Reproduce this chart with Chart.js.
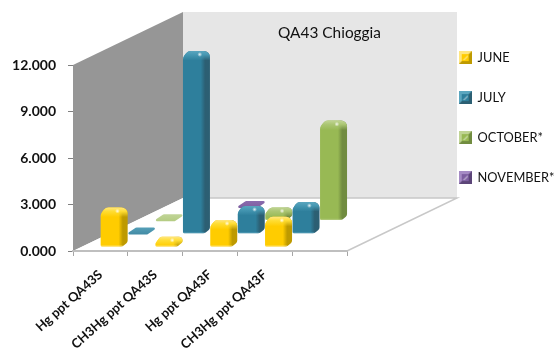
<!DOCTYPE html>
<html>
<head>
<meta charset="utf-8">
<style>html,body{margin:0;padding:0;background:#fff}canvas{display:block}</style>
<script src="https://cdn.jsdelivr.net/npm/chart.js@4/dist/chart.umd.js"></script>
</head>
<body>
<canvas id="c" width="558" height="351"></canvas>
<script>
const categories = ['Hg ppt QA43S', 'CH3Hg ppt QA43S', 'Hg ppt QA43F', 'CH3Hg ppt QA43F', ''];
const june = [2.1, 0.22, 1.3, 1.5, null];
const july = [0.02, 11.35, 1.35, 1.6, null];
const october = [0.02, null, 0.4, 6.0, null];
const november = [null, 0.02, null, null, null];
const yTicks = [0, 3, 6, 9, 12];
const chartTitle = 'QA43 Chioggia';

// Depth of the floor, and of one bar's footprint, in canvas pixels
const FLOOR_DX = 110, FLOOR_DY = 53, ROWS = 4;
const BAR_DX = 6, BAR_DY = 6.5;

const palette = {
  JUNE:        {base: '#FFCC00', dark: '#BE9A00', top: '#FFDD33', edge: '#FFE680', flat: 1},
  JULY:        {base: '#2E7F9C', dark: '#2C5F73', top: '#4698B3', edge: '#5BA6BF', flat: 0.9},
  'OCTOBER*':  {base: '#98B954', dark: '#718C40', top: '#ABC673', edge: '#C0D494', flat: 0.72},
  'NOVEMBER*': {base: '#7D5FA0', dark: '#5C4578', top: '#8D6DB0', edge: '#A58BC4', flat: 1}
};

// Closed path through pts, each corner rounded with its own radius
function roundedPath(ctx, pts, radii) {
  const n = pts.length;
  const mid = (a, b) => [(a[0] + b[0]) / 2, (a[1] + b[1]) / 2];
  const start = mid(pts[n - 1], pts[0]);
  ctx.beginPath();
  ctx.moveTo(start[0], start[1]);
  for (let i = 0; i < n; i++) {
    const p = pts[i], m = mid(p, pts[(i + 1) % n]);
    ctx.arcTo(p[0], p[1], m[0], m[1], radii[i]);
  }
  ctx.closePath();
}

// Each bar stands on its own row of the floor, so the element is painted as a
// bevelled column pushed back along the depth direction of its dataset.
Chart.BarElement.prototype.draw = function (ctx) {
  const {x, y, base, width} = this.getProps(['x', 'y', 'base', 'width'], true);
  const row = this.depthRow + 0.5;
  const col = palette[this.seriesName];
  const cx = x + row * FLOOR_DX / ROWS;
  const yb = base - row * FLOOR_DY / ROWS + 2.2;
  const yt = yb - (base - y);
  const xL = cx - (width + BAR_DX) / 2, xR = xL + width;
  const h = yb - yt;

  ctx.save();
  if (h < 1) {
    // a value close to zero only shows as a thin lozenge on the floor
    ctx.globalAlpha = col.flat;
    roundedPath(ctx, [[xL - 2.5, yt + 1.5], [xL + BAR_DX + 2, yt - BAR_DY + 1], [xR + BAR_DX + 2.5, yt - BAR_DY + 1],
      [xR - 2, yt + 1.5]], [1.2, 2, 1.2, 2]);
    const fg = ctx.createLinearGradient(0, yt - BAR_DY, 0, yt + 1);
    fg.addColorStop(0, col.top);
    fg.addColorStop(1, col.base);
    ctx.fillStyle = fg;
    ctx.fill();
    ctx.restore();
    return;
  }
  const r = Math.min(6, (h + BAR_DY) / 2.6);
  roundedPath(ctx, [[xL, yb + 0.5], [xL, yt], [xL + BAR_DX - 1, yt - BAR_DY], [xR + BAR_DX, yt - BAR_DY],
    [xR + BAR_DX, yb - BAR_DY + 2.5], [xR + 1, yb + 0.5]], [1.5, r, r, r, r * 0.6, r * 0.8]);
  ctx.clip();
  const g = ctx.createLinearGradient(xL, 0, xR + BAR_DX, 0);
  g.addColorStop(0, col.base);
  g.addColorStop(0.66, col.base);
  g.addColorStop(0.82, col.dark);
  g.addColorStop(1, col.dark);
  ctx.fillStyle = g;
  ctx.fillRect(xL - 1, yt - BAR_DY - 1, width + BAR_DX + 2, h + BAR_DY + 3);

  // lighter shoulder along the top of the column
  const tg = ctx.createLinearGradient(0, yt - BAR_DY, 0, yt + 3);
  tg.addColorStop(0, col.edge);
  tg.addColorStop(0.4, col.top);
  tg.addColorStop(1, col.top + '00');
  ctx.fillStyle = tg;
  ctx.fillRect(xL - 1, yt - BAR_DY - 1, width + BAR_DX + 2, BAR_DY + 5);

  // lit rim along the floor
  ctx.fillStyle = col.edge;
  ctx.globalAlpha = 0.5;
  ctx.fillRect(xL, yb - 0.8, width + 1, 1.5);
  ctx.globalAlpha = 1;

  // soft specular glint on the top face
  const gx = xL + width * 0.8, gy = yt - BAR_DY * 0.45;
  const sg = ctx.createRadialGradient(gx, gy, 0.2, gx, gy, 2.4);
  sg.addColorStop(0, 'rgba(255,255,255,0.8)');
  sg.addColorStop(1, 'rgba(255,255,255,0)');
  ctx.fillStyle = sg;
  ctx.fillRect(gx - 3, gy - 3, 6, 6);
  ctx.restore();
};

// Small bevelled square used as the legend key
function legendKey(name) {
  const col = palette[name], s = 13;
  const k = document.createElement('canvas');
  k.width = k.height = s;
  const c = k.getContext('2d');
  c.fillStyle = col.dark;
  c.fillRect(0, 0, s, s);
  c.fillStyle = col.edge;
  c.beginPath(); c.moveTo(0, 0); c.lineTo(s, 0); c.lineTo(s - 3, 3); c.lineTo(3, 3); c.lineTo(3, s - 3); c.lineTo(0, s); c.closePath(); c.fill();
  c.fillStyle = col.base;
  c.fillRect(3, 3, s - 6, s - 6);
  c.fillStyle = 'rgba(255,255,255,0.45)';
  c.beginPath(); c.moveTo(4, s - 4); c.lineTo(s - 4, 4); c.lineTo(s - 4, 6); c.lineTo(6, s - 4); c.closePath(); c.fill();
  return k;
}

const stage = {
  id: 'stage',
  beforeLayout(chart) {
    // the key column may run taller than the plot area without wrapping
    const lg = chart.legend;
    if (!lg.columnHeightSet) {
      const update = lg.update.bind(lg);
      lg.update = (w, h, m) => update(w, 240, m);
      lg.columnHeightSet = true;
    }
  },
  afterLayout(chart) {
    // the key column sits to the right of the back wall
    const lg = chart.legend, w = lg.width, h = lg.height;
    lg.left = 432; lg.right = 432 + w; lg.top = 24; lg.bottom = 24 + h;
  },
  beforeDraw(chart) {
    const {ctx} = chart, {x, y} = chart.scales;
    const l = x.left, r = x.right, b = y.bottom, t = y.top;
    ctx.save();
    // back wall
    ctx.fillStyle = '#E6E6E6';
    ctx.fillRect(l + FLOOR_DX, t - FLOOR_DY, r - l, b - t);
    // side wall
    ctx.fillStyle = '#969696';
    ctx.beginPath();
    ctx.moveTo(l, b); ctx.lineTo(l, t); ctx.lineTo(l + FLOOR_DX, t - FLOOR_DY); ctx.lineTo(l + FLOOR_DX, b - FLOOR_DY);
    ctx.closePath(); ctx.fill();
    // floor
    ctx.fillStyle = '#FFFFFF';
    ctx.beginPath();
    ctx.moveTo(l, b); ctx.lineTo(r, b); ctx.lineTo(r + FLOOR_DX, b - FLOOR_DY); ctx.lineTo(l + FLOOR_DX, b - FLOOR_DY);
    ctx.closePath(); ctx.fill();
    ctx.strokeStyle = '#C8C8C8'; ctx.lineWidth = 1.5;
    ctx.beginPath();
    ctx.moveTo(l + FLOOR_DX, b - FLOOR_DY); ctx.lineTo(r + FLOOR_DX, b - FLOOR_DY); ctx.lineTo(r, b);
    ctx.stroke();
    ctx.restore();
  },
  beforeDatasetsDraw(chart) {
    // every element learns which depth row and series it belongs to
    chart.getSortedVisibleDatasetMetas().forEach(meta => {
      meta.data.forEach(el => {
        el.depthRow = meta.index;
        el.seriesName = chart.data.datasets[meta.index].label;
      });
    });
  },
  afterDraw(chart) {
    const {ctx} = chart;
    ctx.save();
    ctx.fillStyle = '#111111';
    ctx.font = '15.4px Lato';
    ctx.textAlign = 'center';
    ctx.textBaseline = 'middle';
    ctx.fillText(chartTitle, 329.5, 33);
    ctx.restore();
  }
};

const seriesNames = ['JUNE', 'JULY', 'OCTOBER*', 'NOVEMBER*'];
const seriesValues = [june, july, october, november];

new Chart(document.getElementById('c'), {
  type: 'bar',
  plugins: [stage],
  data: {
    labels: categories,
    datasets: seriesNames.map((name, i) => ({
      label: name,
      data: seriesValues[i],
      backgroundColor: palette[name].base,
      pointStyle: legendKey(name),
      clip: false,
      grouped: false,
      barThickness: 21
    }))
  },
  options: {
    responsive: false,
    animation: false,
    events: [],
    layout: {padding: {top: 65, right: 211, left: 0, bottom: 0}},
    plugins: {
      tooltip: {enabled: false},
      title: {display: false},
      legend: {
        position: 'chartArea',
        align: 'start',
        labels: {
          usePointStyle: true,
          boxWidth: 12,
          boxHeight: 13,
          padding: 27.2,
          color: '#111111',
          font: {family: 'Lato', size: 12.8}
        }
      }
    },
    scales: {
      x: {
        afterFit(s) { s.height = 100; },
        grid: {drawOnChartArea: false, drawTicks: true, tickLength: 5, color: '#A6A6A6'},
        border: {color: '#BFBFBF', width: 2},
        ticks: {
          autoSkip: false, minRotation: 42, maxRotation: 42, padding: 11,
          color: '#111111', font: {family: 'Lato', size: 13, weight: 'bold'}
        }
      },
      y: {
        min: 0, max: 12,
        afterFit(s) { s.width = 73; },
        afterBuildTicks(s) { s.ticks = yTicks.map(v => ({value: v})); },
        grid: {drawOnChartArea: false, drawTicks: true, tickLength: 5, color: '#808080'},
        border: {display: false},
        ticks: {
          padding: 12,
          color: '#111111', font: {family: 'Lato', size: 14, weight: 'bold'},
          callback: v => v.toFixed(3)
        }
      }
    }
  }
});
</script>
</body>
</html>
